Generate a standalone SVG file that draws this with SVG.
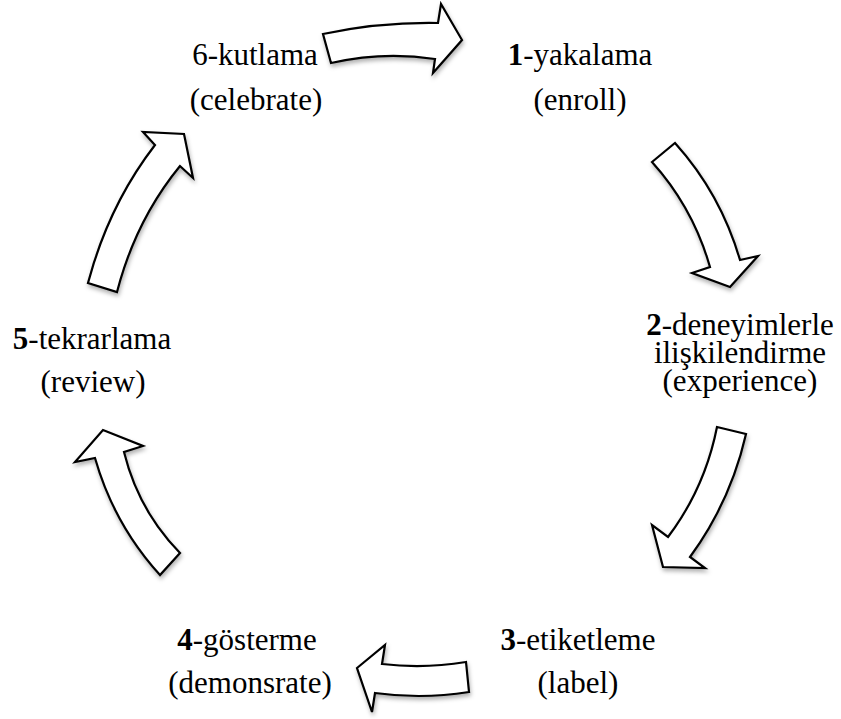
<svg xmlns="http://www.w3.org/2000/svg" width="841" height="719" viewBox="0 0 841 719">
<defs>
<filter id="sh" x="-20%" y="-20%" width="140%" height="140%">
<feDropShadow dx="1" dy="3" stdDeviation="2" flood-color="#000" flood-opacity="0.3"/>
</filter>
<style>
.arrow{fill:#fff;stroke:#000;stroke-width:2.2;stroke-linejoin:miter;filter:url(#sh)}
.t{font-family:'Liberation Serif','Times New Roman',serif;font-size:31px;fill:#000;text-anchor:middle}
.b{font-weight:bold}
</style>
</defs>
<rect width="841" height="719" fill="#fff"/>
<g id="connectors">
<path id="a1" class="arrow" d="M323,34 Q380,22 438,23 L441,4 L462,40 L433,73 L435,59 Q383,51 331,63 Z"/>
<path id="a2" class="arrow" d="M652,162 L675,143 Q720.5,193.5 740,260 L758,256 L730,287 L692,273 L710,267 Q693,207.5 652,162 Z"/>
<path id="a3" class="arrow" d="M717,427 L746,434 Q730.6,501.5 690,557 L705,568 L663,567 L652,525 L668,537 Q705,488 717,427 Z"/>
<path id="a4" class="arrow" d="M466,662 Q424,669 382,664 L385,645 L357,668 L372,712 L375,693 Q422,699.5 469,692 Z"/>
<path id="a5" class="arrow" d="M180,553 Q138.4,510.5 124,452 L143,446 L103,430 L75,462 L95,458 Q114,524.5 160,575 Z"/>
<path id="a6" class="arrow" d="M88,283 Q108.6,205.2 155,145 L143,132 L184,134 L193,178 L180,166 Q135.6,220.2 117,292 Z"/>
</g>
<g class="t">
<g id="n1"><text x="580" y="65"><tspan class="b">1</tspan>-yakalama</text><text x="580" y="110">(enroll)</text></g>
<g id="n2"><text x="740" y="335"><tspan class="b">2</tspan>-deneyimlerle</text><text x="740" y="363">ilişkilendirme</text><text x="740" y="391">(experience)</text></g>
<g id="n3"><text x="578" y="650"><tspan class="b">3</tspan>-etiketleme</text><text x="578" y="693">(label)</text></g>
<g id="n4"><text x="247" y="650"><tspan class="b">4</tspan>-gösterme</text><text x="250" y="693">(demonsrate)</text></g>
<g id="n5"><text x="92" y="349"><tspan class="b">5</tspan>-tekrarlama</text><text x="93" y="392">(review)</text></g>
<g id="n6"><text x="255" y="65">6-kutlama</text><text x="256" y="110">(celebrate)</text></g>
</g>
</svg>
